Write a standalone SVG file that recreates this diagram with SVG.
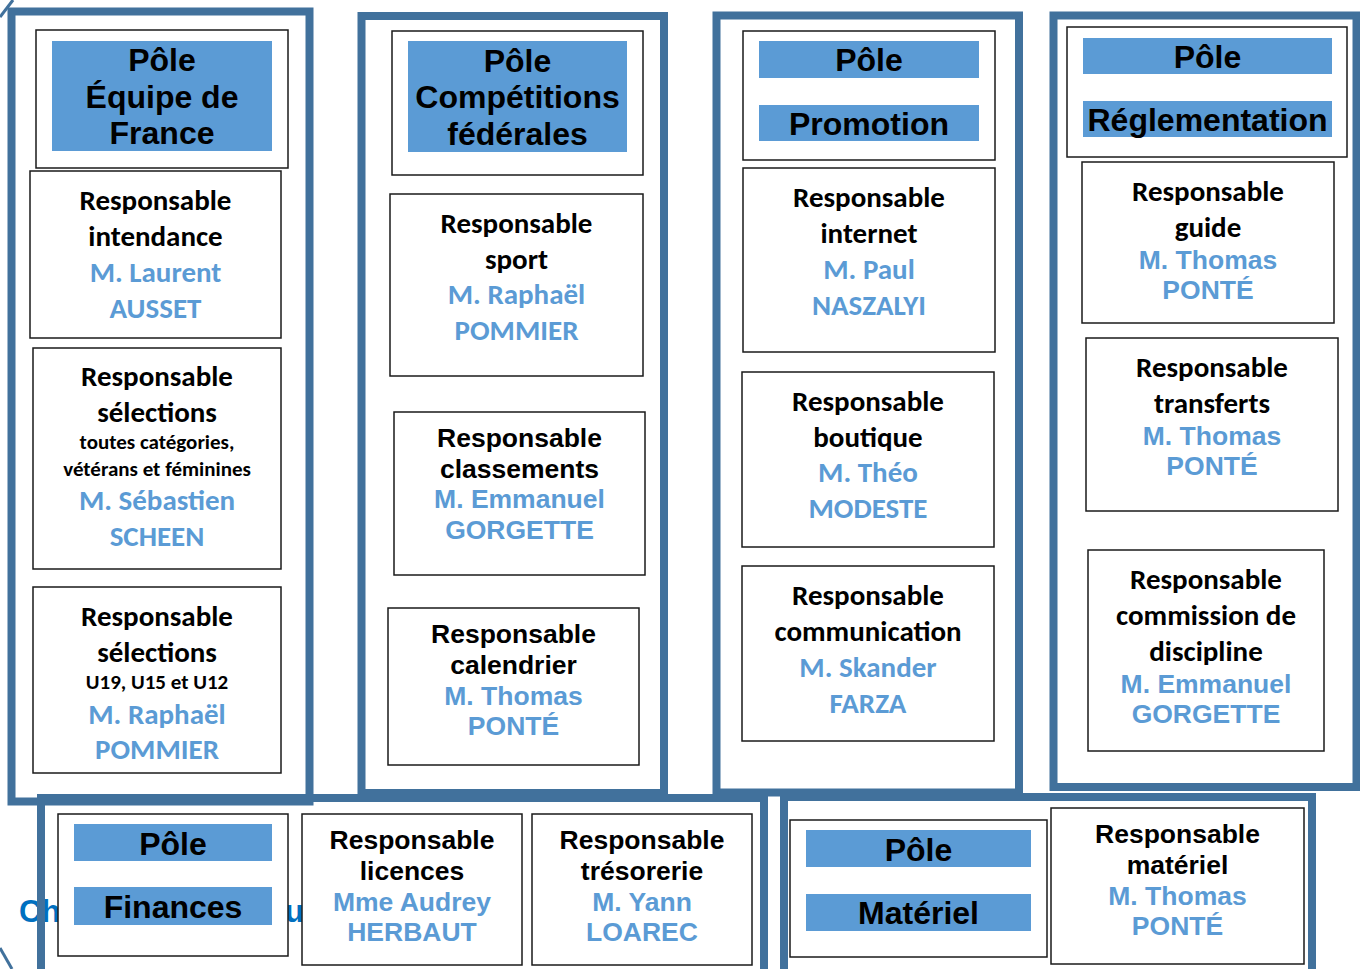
<svg xmlns="http://www.w3.org/2000/svg" width="1360" height="969" viewBox="0 0 1360 969">
<style>
.frame{fill:none;stroke:#41719c;stroke-width:8}
.box{fill:#fff;stroke:#1a1a1a;stroke-width:1.5}
.bar{fill:#5b9bd5}
.h{font-family:"Liberation Sans",Arial,sans-serif;font-weight:bold;font-size:32px;fill:#000;text-anchor:middle}
.c{font-family:Carlito,Calibri,Lato,sans-serif;font-weight:bold;font-size:29px;fill:#000;text-anchor:middle}
.cs{font-family:Carlito,Calibri,Lato,sans-serif;font-weight:bold;font-size:21px;fill:#000;text-anchor:middle}
.a{font-family:"Liberation Sans",Arial,sans-serif;font-weight:bold;font-size:26.5px;fill:#000;text-anchor:middle}
.n{fill:#5b9bd5}
.t{font-family:"Liberation Sans",Arial,sans-serif;font-weight:bold;font-size:31px;fill:#0070c0}
</style>
<rect width="1360" height="969" fill="#fff"/>
<g id="hidden-title">
<text class="t" x="19" y="922">Ch</text>
<text class="t" x="285" y="922">u</text>
</g>
<g id="decor" stroke="#41719c" stroke-width="3" fill="none">
<line x1="0" y1="17" x2="13" y2="0"/>
<line x1="0" y1="948" x2="12" y2="969"/>
</g>
<g id="frames">
<rect class="frame" x="11.5" y="11.5" width="298" height="790"/>
<rect class="frame" x="361.5" y="16" width="302.5" height="777"/>
<rect class="frame" x="716.5" y="15.5" width="302.5" height="777"/>
<rect class="frame" x="1053.5" y="15.5" width="303" height="771.5"/>
<rect class="frame" x="41" y="798" width="723" height="200"/>
<rect class="frame" x="784" y="797" width="528" height="200"/>
</g>
<g id="connectors"></g>

<!-- Column 1 -->
<g id="pole-equipe-france">
<rect class="box" x="36" y="30" width="252" height="138"/>
<rect class="bar" x="52" y="41" width="220" height="110"/>
<text class="h" x="162" y="71">Pôle</text>
<text class="h" x="162" y="108">Équipe de</text>
<text class="h" x="162" y="144">France</text>
</g>
<g id="resp-intendance">
<rect class="box" x="30" y="171" width="251" height="167"/>
<text class="c" x="155.5" y="210">Responsable</text>
<text class="c" x="155.5" y="246">intendance</text>
<text class="c n" x="155.5" y="282">M. Laurent</text>
<text class="c n" x="155.5" y="318">AUSSET</text>
</g>
<g id="resp-selections">
<rect class="box" x="33" y="348" width="248" height="221"/>
<text class="c" x="157" y="386">Responsable</text>
<text class="c" x="157" y="422">sélections</text>
<text class="cs" x="157" y="449">toutes catégories,</text>
<text class="cs" x="157" y="476">vétérans et féminines</text>
<text class="c n" x="157" y="510">M. Sébastien</text>
<text class="c n" x="157" y="546">SCHEEN</text>
</g>
<g id="resp-selections-jeunes">
<rect class="box" x="33" y="587" width="248" height="186"/>
<text class="c" x="157" y="626">Responsable</text>
<text class="c" x="157" y="662">sélections</text>
<text class="cs" x="157" y="689">U19, U15 et U12</text>
<text class="c n" x="157" y="724">M. Raphaël</text>
<text class="c n" x="157" y="759">POMMIER</text>
</g>

<!-- Column 2 -->
<g id="pole-competitions">
<rect class="box" x="392" y="31" width="251" height="144"/>
<rect class="bar" x="408" y="41" width="219" height="111"/>
<text class="h" x="517.5" y="72">Pôle</text>
<text class="h" x="517.5" y="108">Compétitions</text>
<text class="h" x="517.5" y="145">fédérales</text>
</g>
<g id="resp-sport">
<rect class="box" x="390" y="194" width="253" height="182"/>
<text class="c" x="516.5" y="233">Responsable</text>
<text class="c" x="516.5" y="269">sport</text>
<text class="c n" x="516.5" y="304">M. Raphaël</text>
<text class="c n" x="516.5" y="340">POMMIER</text>
</g>
<g id="resp-classements">
<rect class="box" x="394" y="412" width="251" height="163"/>
<text class="a" x="519.5" y="447">Responsable</text>
<text class="a" x="519.5" y="478">classements</text>
<text class="a n" x="519.5" y="508">M. Emmanuel</text>
<text class="a n" x="519.5" y="539">GORGETTE</text>
</g>
<g id="resp-calendrier">
<rect class="box" x="388" y="608" width="251" height="157"/>
<text class="a" x="513.5" y="643">Responsable</text>
<text class="a" x="513.5" y="674">calendrier</text>
<text class="a n" x="513.5" y="705">M. Thomas</text>
<text class="a n" x="513.5" y="735">PONTÉ</text>
</g>

<!-- Column 3 -->
<g id="pole-promotion">
<rect class="box" x="743" y="31" width="252" height="129"/>
<rect class="bar" x="759" y="41" width="220" height="37"/>
<rect class="bar" x="759" y="105" width="220" height="36"/>
<text class="h" x="869" y="71">Pôle</text>
<text class="h" x="869" y="135">Promotion</text>
</g>
<g id="resp-internet">
<rect class="box" x="743" y="168" width="252" height="184"/>
<text class="c" x="869" y="207">Responsable</text>
<text class="c" x="869" y="243">internet</text>
<text class="c n" x="869" y="279">M. Paul</text>
<text class="c n" x="869" y="315">NASZALYI</text>
</g>
<g id="resp-boutique">
<rect class="box" x="742" y="372" width="252" height="175"/>
<text class="c" x="868" y="411">Responsable</text>
<text class="c" x="868" y="447">boutique</text>
<text class="c n" x="868" y="482">M. Théo</text>
<text class="c n" x="868" y="518">MODESTE</text>
</g>
<g id="resp-communication">
<rect class="box" x="742" y="566" width="252" height="175"/>
<text class="c" x="868" y="605">Responsable</text>
<text class="c" x="868" y="641">communication</text>
<text class="c n" x="868" y="677">M. Skander</text>
<text class="c n" x="868" y="713">FARZA</text>
</g>

<!-- Column 4 -->
<g id="pole-reglementation">
<rect class="box" x="1067" y="27" width="280" height="130"/>
<rect class="bar" x="1083" y="38" width="249" height="36"/>
<rect class="bar" x="1083" y="101" width="249" height="36"/>
<text class="h" x="1207.5" y="68">Pôle</text>
<text class="h" x="1207.5" y="131">Réglementation</text>
</g>
<g id="resp-guide">
<rect class="box" x="1082" y="162" width="252" height="161"/>
<text class="c" x="1208" y="201">Responsable</text>
<text class="c" x="1208" y="237">guide</text>
<text class="a n" x="1208" y="269">M. Thomas</text>
<text class="a n" x="1208" y="299">PONTÉ</text>
</g>
<g id="resp-transferts">
<rect class="box" x="1086" y="338" width="252" height="173"/>
<text class="c" x="1212" y="377">Responsable</text>
<text class="c" x="1212" y="413">transferts</text>
<text class="a n" x="1212" y="445">M. Thomas</text>
<text class="a n" x="1212" y="475">PONTÉ</text>
</g>
<g id="resp-discipline">
<rect class="box" x="1088" y="550" width="236" height="201"/>
<text class="c" x="1206" y="589">Responsable</text>
<text class="c" x="1206" y="625">commission de</text>
<text class="c" x="1206" y="661">discipline</text>
<text class="a n" x="1206" y="693">M. Emmanuel</text>
<text class="a n" x="1206" y="723">GORGETTE</text>
</g>

<!-- Bottom row -->
<g id="pole-finances">
<rect class="box" x="58" y="814" width="230" height="142"/>
<rect class="bar" x="74" y="824" width="198" height="37"/>
<rect class="bar" x="74" y="887" width="198" height="38"/>
<text class="h" x="173" y="855">Pôle</text>
<text class="h" x="173" y="918">Finances</text>
</g>
<g id="resp-licences">
<rect class="box" x="302" y="814" width="220" height="151"/>
<text class="a" x="412" y="849">Responsable</text>
<text class="a" x="412" y="880">licences</text>
<text class="a n" x="412" y="911">Mme Audrey</text>
<text class="a n" x="412" y="941">HERBAUT</text>
</g>
<g id="resp-tresorerie">
<rect class="box" x="532" y="814" width="220" height="151"/>
<text class="a" x="642" y="849">Responsable</text>
<text class="a" x="642" y="880">trésorerie</text>
<text class="a n" x="642" y="911">M. Yann</text>
<text class="a n" x="642" y="941">LOAREC</text>
</g>
<g id="pole-materiel">
<rect class="box" x="790" y="820" width="257" height="137"/>
<rect class="bar" x="806" y="830" width="225" height="37"/>
<rect class="bar" x="806" y="894" width="225" height="37"/>
<text class="h" x="918.5" y="861">Pôle</text>
<text class="h" x="918.5" y="924">Matériel</text>
</g>
<g id="resp-materiel">
<rect class="box" x="1051" y="808" width="253" height="156"/>
<text class="a" x="1177.5" y="843">Responsable</text>
<text class="a" x="1177.5" y="874">matériel</text>
<text class="a n" x="1177.5" y="905">M. Thomas</text>
<text class="a n" x="1177.5" y="935">PONTÉ</text>
</g>
</svg>
